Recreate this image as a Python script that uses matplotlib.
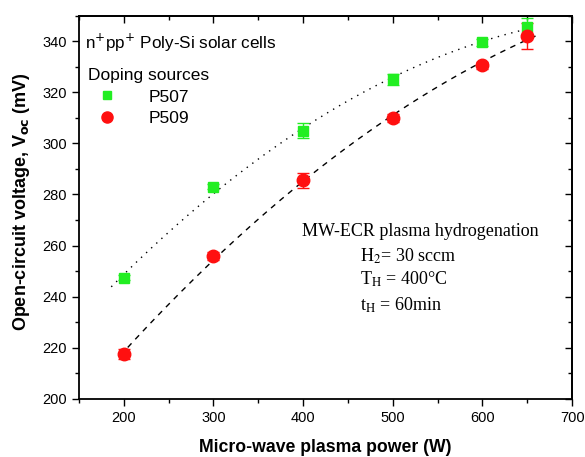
import numpy as np
import matplotlib
matplotlib.use("Agg")
import matplotlib.pyplot as plt
from matplotlib.ticker import MultipleLocator
from matplotlib.lines import Line2D

power = [200, 300, 400, 500, 600, 650]
p507 = [247.5, 283, 305, 325, 339.5, 345.5]
p507_err = [1, 1, 3, 2, 1.5, 3.5]
p509 = [217.5, 256, 285.5, 310, 330.5, 342]
p509_err = [2, 1.5, 3, 1.5, 1.5, 5]

plt.rcParams['font.family'] = ['Liberation Sans', 'DejaVu Sans']
fig = plt.figure(figsize=(5.85, 4.57), dpi=100)
ax = fig.add_axes([0.135, 0.127, 0.843, 0.839])

green = '#22ee22'
red = '#ff1010'

# fits
c1 = np.polyfit(power, p507, 2)
x1 = np.linspace(186, 655, 200)
ax.plot(x1, np.polyval(c1, x1), color='black', lw=1.0, ls=(0, (1, 4)))
c2 = np.polyfit(power, p509, 2)
x2 = np.linspace(196, 660, 200)
ax.plot(x2, np.polyval(c2, x2), color='black', lw=1.0, ls=(0, (4, 4)))

ax.errorbar(power, p507, yerr=p507_err, fmt='s', color=green, ms=7,
            capsize=4, elinewidth=1, zorder=3)
ax.errorbar(power, p509, yerr=p509_err, fmt='o', color=red, ms=9,
            capsize=4, elinewidth=1, zorder=3)

ax.set_xlim(150, 700)
ax.set_ylim(200, 350)
ax.set_xticks([200, 300, 400, 500, 600, 700])
ax.set_yticks(np.arange(200, 341, 20))
ax.xaxis.set_minor_locator(MultipleLocator(50))
ax.yaxis.set_minor_locator(MultipleLocator(10))
ax.tick_params(axis='both', which='both', direction='out', top=False, right=False, labelsize=10.5)
ax.tick_params(which='major', length=5, width=1)
ax.tick_params(which='minor', length=3, width=1)
axr = ax.secondary_yaxis('right')
axr.set_yticks(np.arange(200, 341, 20))
axr.yaxis.set_minor_locator(MultipleLocator(10))
axr.tick_params(which='both', direction='in', labelright=False)
axr.tick_params(which='major', length=5, width=1)
axr.tick_params(which='minor', length=3, width=1)
axt = ax.secondary_xaxis('top')
axt.set_xticks([200, 300, 400, 500, 600, 700])
axt.xaxis.set_minor_locator(MultipleLocator(50))
axt.tick_params(which='both', direction='in', labeltop=False)
axt.tick_params(which='major', length=5, width=1)
axt.tick_params(which='minor', length=3, width=1)
for s in list(ax.spines.values()):
    s.set_linewidth(1.3)
axr.spines['right'].set_linewidth(1.3)
axt.spines['top'].set_linewidth(1.3)

ax.set_xlabel('Micro-wave plasma power (W)', fontsize=12.7, fontweight='bold', labelpad=10)
ax.set_ylabel(r'Open-circuit voltage, V$_{\mathbf{oc}}$ (mV)', fontsize=13, fontweight='bold')
ax.yaxis.set_label_coords(-0.095, 0.515)

ax.text(0.012, 0.93, r'n$^{+}$pp$^{+}$ Poly-Si solar cells', transform=ax.transAxes,
        fontsize=12.3, va='center', ha='left')
handles = [Line2D([], [], ls='none', marker='s', color=green, ms=6),
           Line2D([], [], ls='none', marker='o', color=red, ms=8)]
leg = ax.legend(handles, ['P507', 'P509'], loc='upper left', bbox_to_anchor=(0.0, 0.885),
                frameon=False, title='Doping sources', title_fontsize=12.5, fontsize=12.5,
                handletextpad=1.3, labelspacing=0.35, borderaxespad=0.2,
                handlelength=2.2, borderpad=0.3)
leg._legend_box.align = 'left'

serif = ['Liberation Serif', 'DejaVu Serif']
kw = dict(transform=ax.transAxes, fontsize=13, family=serif, va='center',
          math_fontfamily='stix')
ax.text(0.452, 0.436, 'MW-ECR plasma hydrogenation', **kw)
ax.text(0.57, 0.373, r'H$_2$= 30 sccm', **kw)
ax.text(0.57, 0.311, r'T$_{\rm H}$ = 400°C', **kw)
ax.text(0.57, 0.245, r't$_{\rm H}$ = 60min', **kw)

fig.savefig('out.png', dpi=100)
